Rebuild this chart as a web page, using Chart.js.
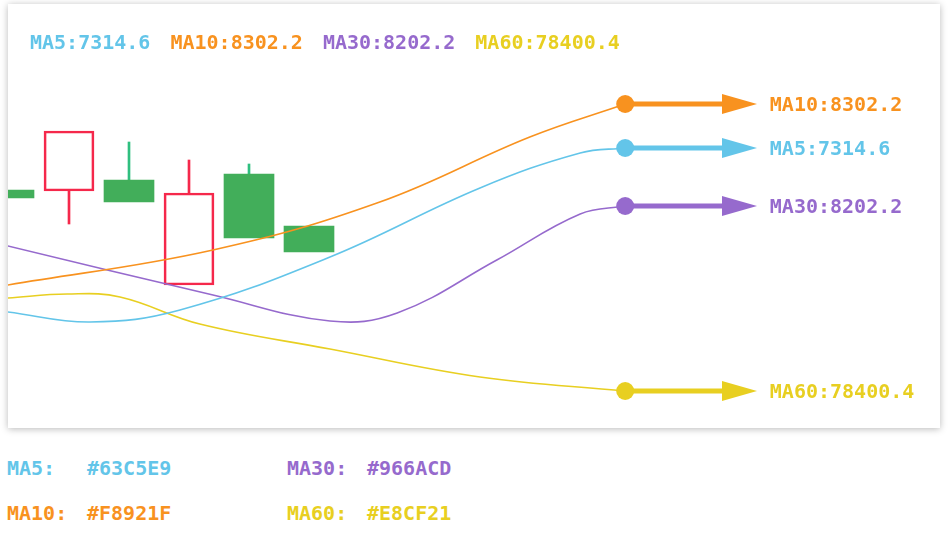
<!DOCTYPE html>
<html>
<head>
<meta charset="utf-8">
<script src="https://cdn.jsdelivr.net/npm/chart.js@4"></script>
<style>
html,body{margin:0;padding:0;background:#fff;width:948px;height:538px;overflow:hidden;}
body{font-family:"DejaVu Sans Mono",monospace;font-weight:bold;font-size:20px;}
#card{position:absolute;left:8px;top:4px;width:932px;height:424px;background:#fff;box-shadow:0 1px 7px rgba(0,0,0,0.28);}
#card canvas{position:absolute;left:0;top:0;}
#topLegend{position:absolute;left:22px;top:28px;line-height:20px;white-space:pre;z-index:2;}
#topLegend span{margin-right:20px;}
.row{position:absolute;line-height:20px;white-space:pre;}
.row .v{position:absolute;left:80px;top:0;}
</style>
</head>
<body>
<div id="card">
  <canvas id="c" width="932" height="424"></canvas>
  <div id="topLegend"></div>
</div>
<div id="bottomLegend"></div>
<script>
// ---- data ----
const maNames  = ['MA5', 'MA10', 'MA30', 'MA60'];
const maValues = ['7314.6', '8302.2', '8202.2', '78400.4'];
const maColors = ['#63C5E9', '#F8921F', '#966ACD', '#E8CF21'];

// candles (index, price level)
const candleX       = [0, 1, 2, 3, 4, 5];
const bodyLow       = [230, 237, 226, 143, 190, 176];
const bodyHigh      = [238, 297, 248, 235, 254, 202];
const candleRising  = [true, false, true, false, true, true];
const upperWickLow  = [null, null, 248, 235, 254, null];
const upperWickHigh = [null, null, 286, 268, 264, null];
const lowerWickLow  = [null, 204, null, null, null, null];
const lowerWickHigh = [null, 237, null, null, null, null];

// moving average curves
const ma5X  = [-0.02, 1.35, 2.85, 5.35, 7.85, 9.52, 10.27];
const ma5Y  = [116, 106, 118, 171, 240, 275, 280];
const ma10X = [-0.02, 3.4, 6.18, 8.68, 10.27];
const ma10Y = [143, 178, 226, 291, 324];
const ma30X = [-0.02, 3.4, 5.35, 6.47, 8.13, 9.52, 10.27];
const ma30Y = [182, 133, 107, 115, 168, 214, 222];
const ma60X = [-0.02, 0.97, 1.85, 3.18, 5.35, 7.85, 10.27];
const ma60Y = [130, 134, 131, 104, 79, 51, 37];

const arrowHeadX = 12.175;
const labelX = 12.68;

// ---- build ----
const series = [[ma5X, ma5Y], [ma10X, ma10Y], [ma30X, ma30Y], [ma60X, ma60Y]];
const RED = '#F5284B', GREEN = '#42AE5A', GREEN_WICK = '#2FBF7F';

function makeArrow(color) {
  const cv = document.createElement('canvas');
  cv.width = 35; cv.height = 20;
  const g = cv.getContext('2d');
  g.fillStyle = color;
  g.beginPath(); g.moveTo(0, 0); g.lineTo(35, 10); g.lineTo(0, 20); g.closePath(); g.fill();
  return cv;
}

const datasets = [];
datasets.push({
  type: 'bar', order: 3, grouped: false, barThickness: 50, borderSkipped: false,
  data: candleX.map((x, i) => ({x, y: [bodyLow[i], bodyHigh[i]]})),
  backgroundColor: candleRising.map(r => r ? GREEN : 'rgba(0,0,0,0)'),
  borderColor: candleRising.map(r => r ? GREEN : RED),
  borderWidth: candleRising.map(r => r ? 0 : 2)
});
function wickSet(lo, hi) {
  const idx = candleX.map((x, i) => i).filter(i => lo[i] !== null);
  return {
    type: 'bar', order: 3, grouped: false, barThickness: 2, borderWidth: 0,
    data: idx.map(i => ({x: candleX[i], y: [lo[i], hi[i]]})),
    backgroundColor: idx.map(i => candleRising[i] ? GREEN_WICK : RED)
  };
}
datasets.push(wickSet(upperWickLow, upperWickHigh));
datasets.push(wickSet(lowerWickLow, lowerWickHigh));

series.forEach(([xs, ys], k) => {
  datasets.push({
    type: 'line', order: 2,
    data: xs.map((x, i) => ({x, y: ys[i]})),
    borderColor: maColors[k], borderWidth: 1.6, pointRadius: 0,
    tension: 0.4, fill: false
  });
});
series.forEach(([xs, ys], k) => {
  const endX = xs[xs.length - 1], endY = ys[ys.length - 1];
  datasets.push({
    type: 'line', order: 1,
    data: [{x: endX, y: endY}, {x: arrowHeadX, y: endY}],
    borderColor: maColors[k], borderWidth: 5, fill: false,
    pointStyle: ['circle', makeArrow(maColors[k])],
    pointRadius: [9, 1], pointBorderWidth: 0,
    pointBackgroundColor: maColors[k]
  });
});

const endLabels = {
  id: 'endLabels',
  afterDatasetsDraw(chart) {
    const {ctx, scales: {x, y}} = chart;
    ctx.save();
    ctx.font = 'bold 20px "DejaVu Sans Mono"';
    ctx.textBaseline = 'middle';
    series.forEach(([xs, ys], k) => {
      ctx.fillStyle = maColors[k];
      ctx.fillText(maNames[k] + ':' + maValues[k], x.getPixelForValue(labelX), y.getPixelForValue(ys[ys.length - 1]) + 2);
    });
    ctx.restore();
  }
};

new Chart(document.getElementById('c'), {
  type: 'line',
  data: {datasets},
  plugins: [endLabels],
  options: {
    responsive: false, animation: false, events: [],
    layout: {padding: 0, autoPadding: false},
    plugins: {legend: {display: false}, tooltip: {enabled: false}},
    scales: {
      x: {type: 'linear', display: false, min: -1 / 60, max: 931 / 60, offset: false},
      y: {type: 'linear', display: false, min: 0, max: 424}
    }
  }
});

// legends
const topLegendEl = document.getElementById('topLegend');
maNames.forEach((n, k) => {
  const s = document.createElement('span');
  s.style.color = maColors[k];
  s.textContent = n + ':' + maValues[k];
  topLegendEl.appendChild(s);
});
const bottomLegendEl = document.getElementById('bottomLegend');
const legendPos = [[7, 458], [7, 503], [287, 458], [287, 503]];
maNames.forEach((n, k) => {
  const d = document.createElement('div');
  d.className = 'row';
  d.style.left = legendPos[k][0] + 'px';
  d.style.top = legendPos[k][1] + 'px';
  d.style.color = maColors[k];
  d.innerHTML = '<span></span><span class="v"></span>';
  d.children[0].textContent = n + ':';
  d.children[1].textContent = maColors[k];
  bottomLegendEl.appendChild(d);
});
</script>
</body>
</html>
